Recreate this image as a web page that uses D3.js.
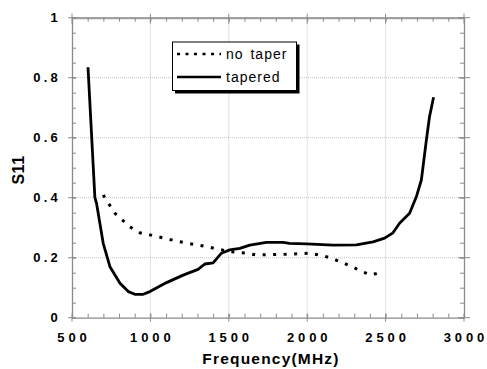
<!DOCTYPE html>
<html><head><meta charset="utf-8">
<script src="https://cdn.jsdelivr.net/npm/d3@7"></script>
<style>body{margin:0;background:#fff}svg{display:block}</style>
</head><body>
<svg id="c" width="487" height="369"></svg>
<script>
const taperedFreq = [602,646,657,699,742,806,859,901,954,997,1103,1209,1304,1347,1400,1453,1506,1570,1634,1740,1846,1888,1995,2165,2314,2420,2494,2547,2589,2653,2696,2728,2760,2780,2806];
const taperedS11  = [0.835,0.40,0.38,0.248,0.17,0.115,0.087,0.078,0.078,0.087,0.117,0.142,0.161,0.179,0.183,0.215,0.226,0.231,0.242,0.251,0.251,0.248,0.246,0.242,0.243,0.253,0.265,0.283,0.315,0.348,0.403,0.459,0.592,0.67,0.735];
const noTaperFreq = [699,774,869,933,997,1188,1358,1506,1613,1676,1846,2016,2100,2165,2229,2293,2357,2410,2473];
const noTaperS11  = [0.409,0.348,0.303,0.283,0.276,0.253,0.237,0.22,0.215,0.209,0.211,0.215,0.207,0.196,0.183,0.168,0.152,0.142,0.153];
const xTicks = [500,1000,1500,2000,2500,3000];
const yTicks = [0,0.2,0.4,0.6,0.8,1];
const yTickLabels = ["0","0.2","0.4","0.6","0.8","1"];
const seriesNames = ["no taper","tapered"];

const svg = d3.select("#c");
const L=72,R=464,T=17.7,B=317.7;
const x = d3.scaleLinear().domain([500,3000]).range([L,R]);
const y = d3.scaleLinear().domain([0,1]).range([B,T]);
const font = "Liberation Sans, Arial, Helvetica, sans-serif";
const frame = "#8a8a8a";

// grid
const g = svg.append("g");
g.selectAll(".gx").data(xTicks.slice(1,-1)).join("line")
 .attr("x1",d=>x(d)).attr("x2",d=>x(d)).attr("y1",T).attr("y2",B)
 .attr("stroke","#b8b8b8").attr("stroke-width",0.8).attr("stroke-dasharray","1,1");
g.selectAll(".gy").data(yTicks.slice(1,-1)).join("line")
 .attr("y1",d=>y(d)).attr("y2",d=>y(d)).attr("x1",L).attr("x2",R)
 .attr("stroke","#b8b8b8").attr("stroke-width",0.8).attr("stroke-dasharray","1,1");

// axes with inward ticks
const xMinor = d3.range(500,3001,100);
const yMinor = d3.range(0,1.0001,0.05);
function axisStyle(sel){ sel.selectAll("path").attr("stroke",frame).attr("stroke-width",1.3);
  sel.selectAll("line").attr("stroke",frame).attr("stroke-width",1); sel.selectAll("text").remove(); }
svg.append("g").attr("transform",`translate(0,${B})`)
 .call(d3.axisBottom(x).tickValues(xMinor).tickSize(-4).tickSizeOuter(0).tickFormat("")).call(axisStyle);
svg.append("g").attr("transform",`translate(0,${T})`)
 .call(d3.axisTop(x).tickValues(xMinor).tickSize(-4).tickSizeOuter(0).tickFormat("")).call(axisStyle)
 .select("path").attr("stroke-width",2.2).attr("stroke","#a0a0a0");
svg.append("g").attr("transform",`translate(${L},0)`)
 .call(d3.axisLeft(y).tickValues(yMinor).tickSize(-4).tickSizeOuter(0).tickFormat("")).call(axisStyle);
svg.append("g").attr("transform",`translate(${R},0)`)
 .call(d3.axisRight(y).tickValues(yMinor).tickSize(-4).tickSizeOuter(0).tickFormat("")).call(axisStyle);
// major ticks
svg.append("g").selectAll("line").data(xTicks).join("line")
 .attr("x1",d=>x(d)).attr("x2",d=>x(d)).attr("y1",B-4).attr("y2",B+4).attr("stroke",frame);
svg.append("g").selectAll("line").data(yTicks).join("line")
 .attr("y1",d=>y(d)).attr("y2",d=>y(d)).attr("x1",L-4).attr("x2",L+4).attr("stroke",frame);
svg.append("g").selectAll("line").data(yTicks).join("line")
 .attr("y1",d=>y(d)).attr("y2",d=>y(d)).attr("x1",R-6).attr("x2",R+6).attr("stroke",frame);
svg.append("g").selectAll("line").data(xTicks).join("line")
 .attr("x1",d=>x(d)).attr("x2",d=>x(d)).attr("y1",T-4).attr("y2",T+6).attr("stroke",frame);

// tick labels
const xls = 3.9;
svg.append("g").selectAll("text").data(xTicks).join("text")
 .attr("x",d=>x(d)+xls/2).attr("y",342).attr("text-anchor","middle")
 .attr("font-family",font).attr("font-weight","bold").attr("font-size",13)
 .attr("letter-spacing",xls+"px").text(d=>d);
svg.append("g").selectAll("text").data(yTicks).join("text")
 .attr("x",61).attr("y",d=>y(d)+4.7).attr("text-anchor","end")
 .attr("font-family",font).attr("font-weight","bold").attr("font-size",13)
 .attr("letter-spacing","3.2px").text((d,i)=>yTickLabels[i]);

// titles
svg.append("text").attr("x",271).attr("y",364).attr("text-anchor","middle")
 .attr("font-family",font).attr("font-weight","bold").attr("font-size",15.5)
 .attr("letter-spacing","1.2px").text("Frequency(MHz)");
svg.append("text").attr("transform","translate(24,170) rotate(-90)").attr("text-anchor","middle")
 .attr("font-family",font).attr("font-weight","bold").attr("font-size",16)
 .attr("letter-spacing","0.5px").text("S11");

// lines
const line = d3.line().x(d=>x(d[0])).y(d=>y(d[1]));
svg.append("path").datum(noTaperFreq.map((f,i)=>[f,noTaperS11[i]]))
 .attr("d",line).attr("fill","none").attr("stroke","#000").attr("stroke-width",3)
 .attr("stroke-dasharray","3,7.5");
svg.append("path").datum(taperedFreq.map((f,i)=>[f,taperedS11[i]]))
 .attr("d",line).attr("fill","none").attr("stroke","#000").attr("stroke-width",2.8)
 .attr("stroke-linejoin","round");

// legend
const lg = svg.append("g");
lg.append("rect").attr("x",175).attr("y",44.5).attr("width",124.5).attr("height",49).attr("fill","#000");
lg.append("rect").attr("x",172.5).attr("y",42).attr("width",124).attr("height",48.5)
 .attr("fill","#fff").attr("stroke","#000").attr("stroke-width",1);
const ly=[54,77];
lg.append("line").attr("x1",177).attr("x2",221).attr("y1",ly[0]).attr("y2",ly[0])
 .attr("stroke","#000").attr("stroke-width",2.6).attr("stroke-dasharray","3,5.5");
lg.append("line").attr("x1",177).attr("x2",221).attr("y1",ly[1]).attr("y2",ly[1])
 .attr("stroke","#000").attr("stroke-width",2.6);
lg.selectAll("text").data(seriesNames).join("text")
 .attr("x",226).attr("y",(d,i)=>ly[i]+5).attr("font-family",font).attr("font-size",14)
 .attr("letter-spacing","1px").attr("word-spacing","2px").text(d=>d);
</script>
</body></html>
